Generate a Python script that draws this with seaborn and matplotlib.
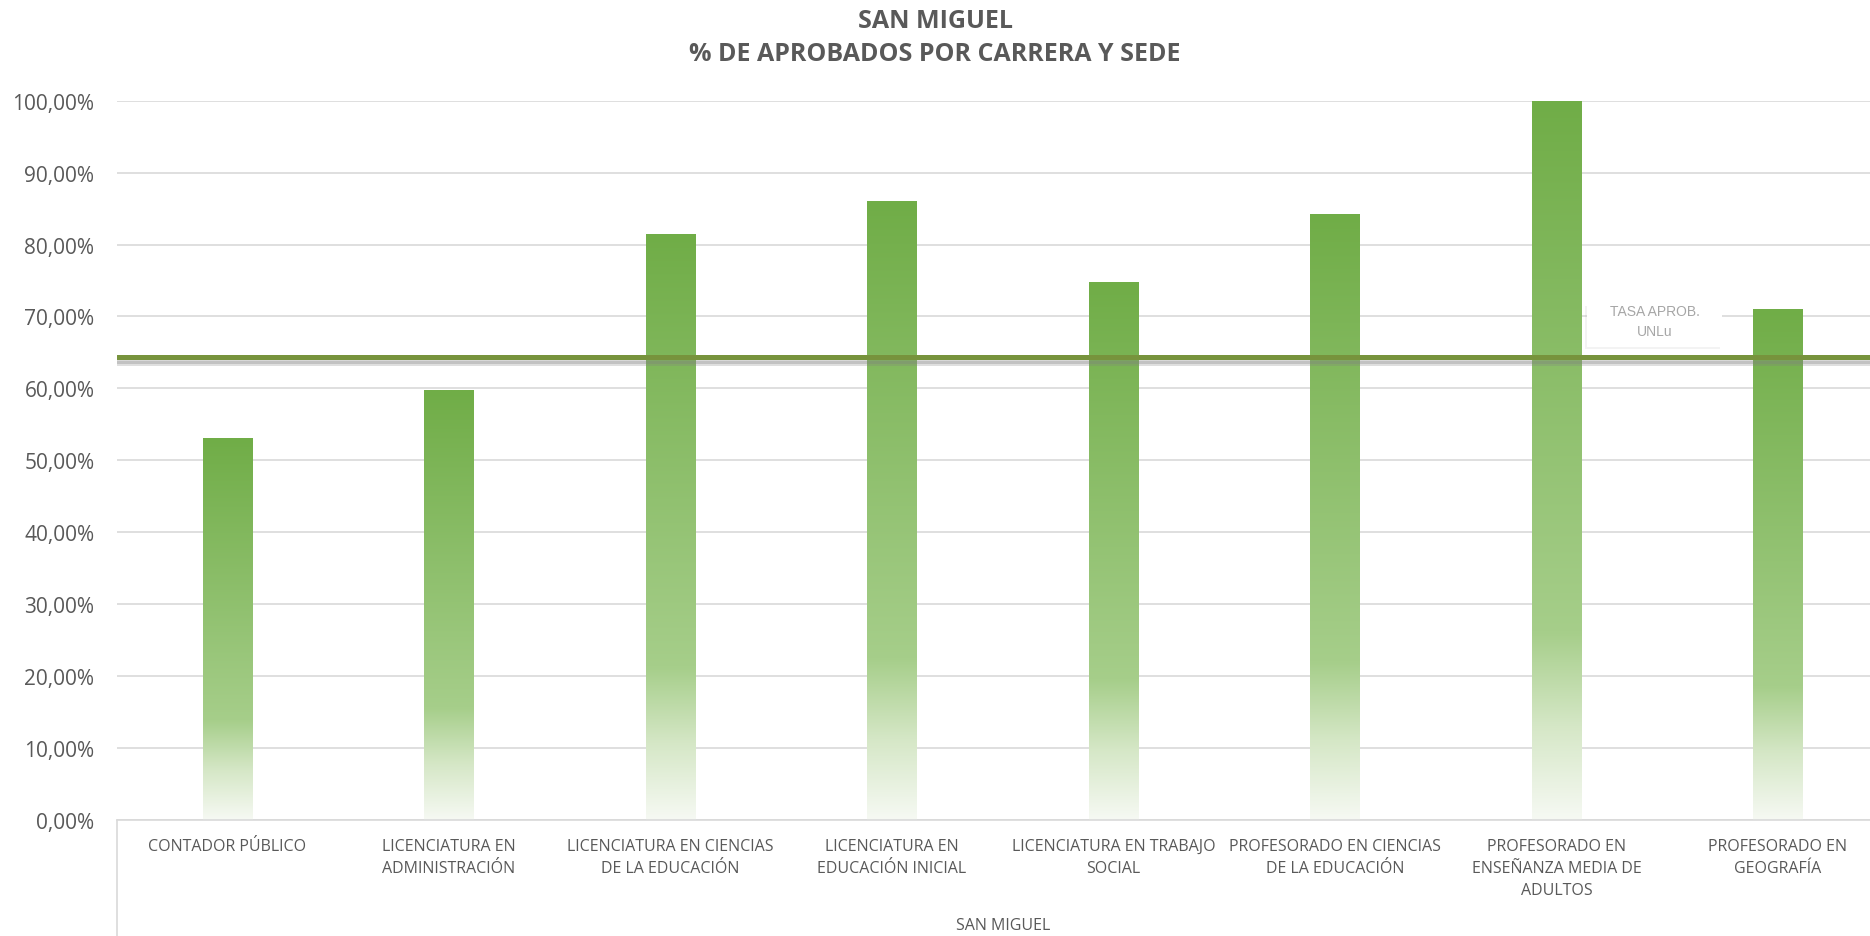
import numpy as np
import matplotlib
matplotlib.use("Agg")
import matplotlib.pyplot as plt
import matplotlib.patheffects as pe
from matplotlib.colors import LinearSegmentedColormap
from matplotlib.patches import Rectangle
from matplotlib.ticker import FuncFormatter
import seaborn as sns

# datos
carreras = [
    "CONTADOR PÚBLICO",
    "LICENCIATURA EN ADMINISTRACIÓN",
    "LICENCIATURA EN CIENCIAS DE LA EDUCACIÓN",
    "LICENCIATURA EN EDUCACIÓN INICIAL",
    "LICENCIATURA EN TRABAJO SOCIAL",
    "PROFESORADO EN CIENCIAS DE LA EDUCACIÓN",
    "PROFESORADO EN ENSEÑANZA MEDIA DE ADULTOS",
    "PROFESORADO EN GEOGRAFÍA",
]
etiquetas = [
    "CONTADOR PÚBLICO",
    "LICENCIATURA EN\nADMINISTRACIÓN",
    "LICENCIATURA EN CIENCIAS\nDE LA EDUCACIÓN",
    "LICENCIATURA EN\nEDUCACIÓN INICIAL",
    "LICENCIATURA EN TRABAJO\nSOCIAL",
    "PROFESORADO EN CIENCIAS\nDE LA EDUCACIÓN",
    "PROFESORADO EN\nENSEÑANZA MEDIA DE\nADULTOS",
    "PROFESORADO EN\nGEOGRAFÍA",
]
aprobados = [53.1, 59.7, 81.4, 86.0, 74.8, 84.2, 100.0, 71.1]
tasa_unlu = 64.3
sede = "SAN MIGUEL"

sns.set_theme(style="whitegrid")
plt.rcParams["font.family"] = ["Open Sans", "DejaVu Sans"]

gris_texto = "#595959"
gris_linea = "#D9D9D9"

fig = plt.figure(figsize=(18.7, 9.37), dpi=100)
ax = fig.add_axes([0.0624, 0.1241, 0.9476, 0.7673])

sns.barplot(x=carreras, y=aprobados, color="#70AD47", width=0.2235, ax=ax, zorder=2)

# relleno degradado por barra
cmap = LinearSegmentedColormap.from_list(
    "verde",
    [(0.0, "#F6F9F3"), (0.13, "#D5E7C6"), (0.26, "#A6CE8A"), (1.0, "#70AD47")],
)
grad = np.linspace(0, 1, 256).reshape(-1, 1)
for p in ax.patches:
    x0, y0, w, h = p.get_x(), p.get_y(), p.get_width(), p.get_height()
    im = ax.imshow(grad, extent=[x0, x0 + w, y0, y0 + h], origin="lower",
                   cmap=cmap, aspect="auto", zorder=2, interpolation="bilinear")
    im.set_clip_path(p)
    p.set_facecolor("none")
    p.set_edgecolor("none")

ax.set_xlim(-0.5, len(carreras) - 0.5)
ax.set_ylim(0, 100)
ax.set_yticks(np.arange(0, 101, 10))
ax.yaxis.set_major_formatter(FuncFormatter(lambda v, _: f"{v:.2f}%".replace(".", ",")))
ax.set_xticks(range(len(carreras)))
ax.set_xticklabels(etiquetas, linespacing=1.5)

ax.grid(axis="y", color=gris_linea, linewidth=1.2)
ax.grid(axis="x", visible=False)
for s in ["top", "right", "left"]:
    ax.spines[s].set_visible(False)
ax.spines["bottom"].set_color(gris_linea)
ax.spines["bottom"].set_linewidth(1.2)
ax.tick_params(axis="y", length=0, pad=16, labelsize=15, labelcolor=gris_texto)
ax.tick_params(axis="x", length=0, pad=13, labelsize=11.5, labelcolor=gris_texto)
ax.set_xlabel("")
ax.set_ylabel("")

# linea tasa UNLu
ax.axhline(tasa_unlu, color="#77933C", linewidth=3.6, zorder=4,
           path_effects=[pe.SimpleLineShadow(offset=(0, -4), shadow_color="#808080", alpha=0.25),
                         pe.SimpleLineShadow(offset=(0, -2.5), shadow_color="#808080", alpha=0.3),
                         pe.Normal()])

# eje de categorías multinivel
ax.plot([0, 0], [0, -0.1618], transform=ax.transAxes, color=gris_linea,
        linewidth=1.2, clip_on=False)
ax.text(0.5, -0.146, sede, transform=ax.transAxes, ha="center", va="center",
        fontsize=11.5, color=gris_texto)

# etiqueta de la linea
caja = Rectangle((0.8298, 0.6575), 0.0762, 0.0598, transform=ax.transAxes,
                 facecolor="white", edgecolor="none", zorder=5,
                 path_effects=[pe.SimplePatchShadow(offset=(-1.5, -1.5), shadow_rgbFace="#A0A0A0", alpha=0.12),
                               pe.Normal()])
ax.add_patch(caja)
ax.text(0.8298 + 0.0381, 0.6933, "TASA APROB.\nUNLu", transform=ax.transAxes,
        ha="center", va="center", fontsize=10, color="#A6A6A6",
        family=["Liberation Sans", "DejaVu Sans"], linespacing=1.55, zorder=6)

fig.text(0.5, 0.9595, "SAN MIGUEL\n% DE APROBADOS POR CARRERA Y SEDE", ha="center", va="center",
         fontsize=18, fontweight="bold", color=gris_texto, linespacing=1.45)

fig.savefig("out.png", dpi=100)
